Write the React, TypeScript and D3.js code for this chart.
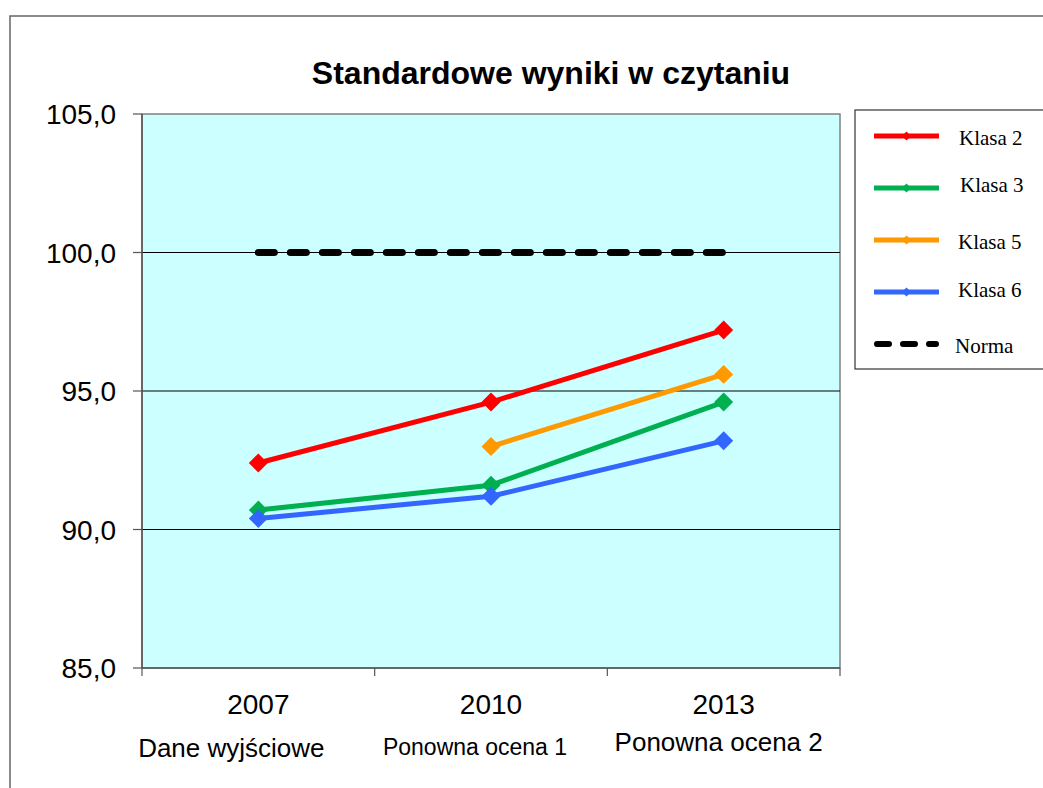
import React from "react";
import * as d3 from "d3";

const categories = ["2007", "2010", "2013"];
const subLabels = ["Dane wyjściowe", "Ponowna ocena 1", "Ponowna ocena 2"];
const klasa2 = [92.4, 94.6, 97.2];
const klasa3 = [90.7, 91.6, 94.6];
const klasa5: (number | null)[] = [null, 93.0, 95.6];
const klasa6 = [90.4, 91.2, 93.2];
const norma = [100, 100, 100];
const yTicks = [85, 90, 95, 100, 105];
const seriesNames = ["Klasa 2", "Klasa 3", "Klasa 5", "Klasa 6", "Norma"];

const W = 1043;
const H = 788;
const plot = { left: 142, right: 840, top: 114, bottom: 668 };

const colors = ["#FF0000", "#00B050", "#FF9900", "#3366FF", "#000000"];

// label layout (sizes / offsets)
const subLabelLayout = [
  { dx: -27, y: 757, size: 26 },
  { dx: -16, y: 755, size: 23 },
  { dx: -5, y: 751, size: 26 },
];
const legendLayout = [
  { y: 136, ty: 145, tx: 959 },
  { y: 188, ty: 192, tx: 960 },
  { y: 240, ty: 249, tx: 958 },
  { y: 292, ty: 297, tx: 958 },
  { y: 344, ty: 353, tx: 955 },
];

const fmt = d3.formatLocale({ decimal: ",", thousands: " ", grouping: [3], currency: ["", ""] }).format(".1f");

export default function App() {
  const x = d3.scaleBand<string>().domain(categories).range([plot.left, plot.right]);
  const y = d3.scaleLinear().domain([85, 105]).range([plot.bottom, plot.top]);
  const cx = (c: string) => (x(c) as number) + x.bandwidth() / 2;

  const seriesData = [klasa2, klasa3, klasa5, klasa6];
  const line = d3
    .line<number | null>()
    .defined((d) => d !== null)
    .x((_, i) => cx(categories[i]))
    .y((d) => y(d as number));

  const bigDiamond = d3.symbol(d3.symbolSquare, 180)();
  const smallDiamond = d3.symbol(d3.symbolSquare, 42)();

  const boundaries = [...categories.map((c) => x(c) as number), plot.right];

  return (
    <svg
      width={W}
      height={H}
      style={{ position: "absolute", left: 0, top: 0, display: "block", background: "#fff" }}
      fontFamily="Arial, 'Liberation Sans', sans-serif"
    >
      {/* outer frame */}
      <rect x={10} y={16} width={W + 20} height={H + 20} fill="#fff" stroke="#666" strokeWidth={1.5} />

      {/* title */}
      <text x={551} y={84} textAnchor="middle" fontSize={32} fontWeight="bold" fill="#000">
        Standardowe wyniki w czytaniu
      </text>

      {/* plot background */}
      <rect
        x={plot.left}
        y={plot.top}
        width={plot.right - plot.left}
        height={plot.bottom - plot.top}
        fill="#CCFFFF"
        stroke="#808080"
        strokeWidth={1.5}
      />

      {/* gridlines */}
      {yTicks
        .filter((t) => t !== 85 && t !== 105)
        .map((t) => (
          <line key={"g" + t} x1={plot.left} x2={plot.right} y1={y(t)} y2={y(t)} stroke="#000" strokeWidth={1} />
        ))}

      {/* axes */}
      <line x1={plot.left} x2={plot.left} y1={plot.top} y2={plot.bottom} stroke="#555" strokeWidth={1.5} />
      <line x1={plot.left} x2={plot.right} y1={plot.bottom} y2={plot.bottom} stroke="#555" strokeWidth={1.5} />

      {yTicks.map((t) => (
        <g key={"yt" + t}>
          <line x1={plot.left - 9} x2={plot.left} y1={y(t)} y2={y(t)} stroke="#555" strokeWidth={1.2} />
          <text x={116} y={y(t) + 10} textAnchor="end" fontSize={28} fill="#000">
            {fmt(t)}
          </text>
        </g>
      ))}

      {boundaries.map((b, i) => (
        <line key={"xt" + i} x1={b} x2={b} y1={plot.bottom} y2={plot.bottom + 8} stroke="#555" strokeWidth={1.2} />
      ))}

      {categories.map((c, i) => (
        <g key={"xl" + c}>
          <text x={cx(c)} y={714} textAnchor="middle" fontSize={28} fill="#000">
            {c}
          </text>
          <text
            x={cx(c) + subLabelLayout[i].dx}
            y={subLabelLayout[i].y}
            textAnchor="middle"
            fontSize={subLabelLayout[i].size}
            fill="#000"
          >
            {subLabels[i]}
          </text>
        </g>
      ))}

      {/* Norma dashed */}
      <path
        d={line(norma) || ""}
        fill="none"
        stroke="#000"
        strokeWidth={7}
        strokeLinecap="round"
        strokeDasharray="16 16"
      />

      {/* series */}
      {seriesData.map((s, si) => (
        <g key={"s" + si}>
          <path d={line(s) || ""} fill="none" stroke={colors[si]} strokeWidth={5} strokeLinejoin="round" />
          {s.map((v, i) =>
            v === null ? null : (
              <path
                key={i}
                d={bigDiamond || ""}
                transform={`translate(${cx(categories[i])},${y(v)}) rotate(45)`}
                fill={colors[si]}
              />
            )
          )}
        </g>
      ))}

      {/* legend */}
      <rect x={855} y={110} width={W} height={259} fill="#fff" stroke="#333" strokeWidth={1.2} />
      {seriesNames.map((n, i) => {
        const L = legendLayout[i];
        return (
          <g key={"lg" + n}>
            {i < 4 ? (
              <>
                <line x1={874} x2={939} y1={L.y} y2={L.y} stroke={colors[i]} strokeWidth={5} />
                <path d={smallDiamond || ""} transform={`translate(906.5,${L.y}) rotate(45)`} fill={colors[i]} />
              </>
            ) : (
              <line
                x1={877}
                x2={936}
                y1={L.y}
                y2={L.y}
                stroke="#000"
                strokeWidth={6}
                strokeLinecap="round"
                strokeDasharray="12 14"
              />
            )}
            <text x={L.tx} y={L.ty} fontSize={21} fontFamily="'Liberation Serif', 'Times New Roman', serif" fill="#000">
              {n}
            </text>
          </g>
        );
      })}
    </svg>
  );
}
